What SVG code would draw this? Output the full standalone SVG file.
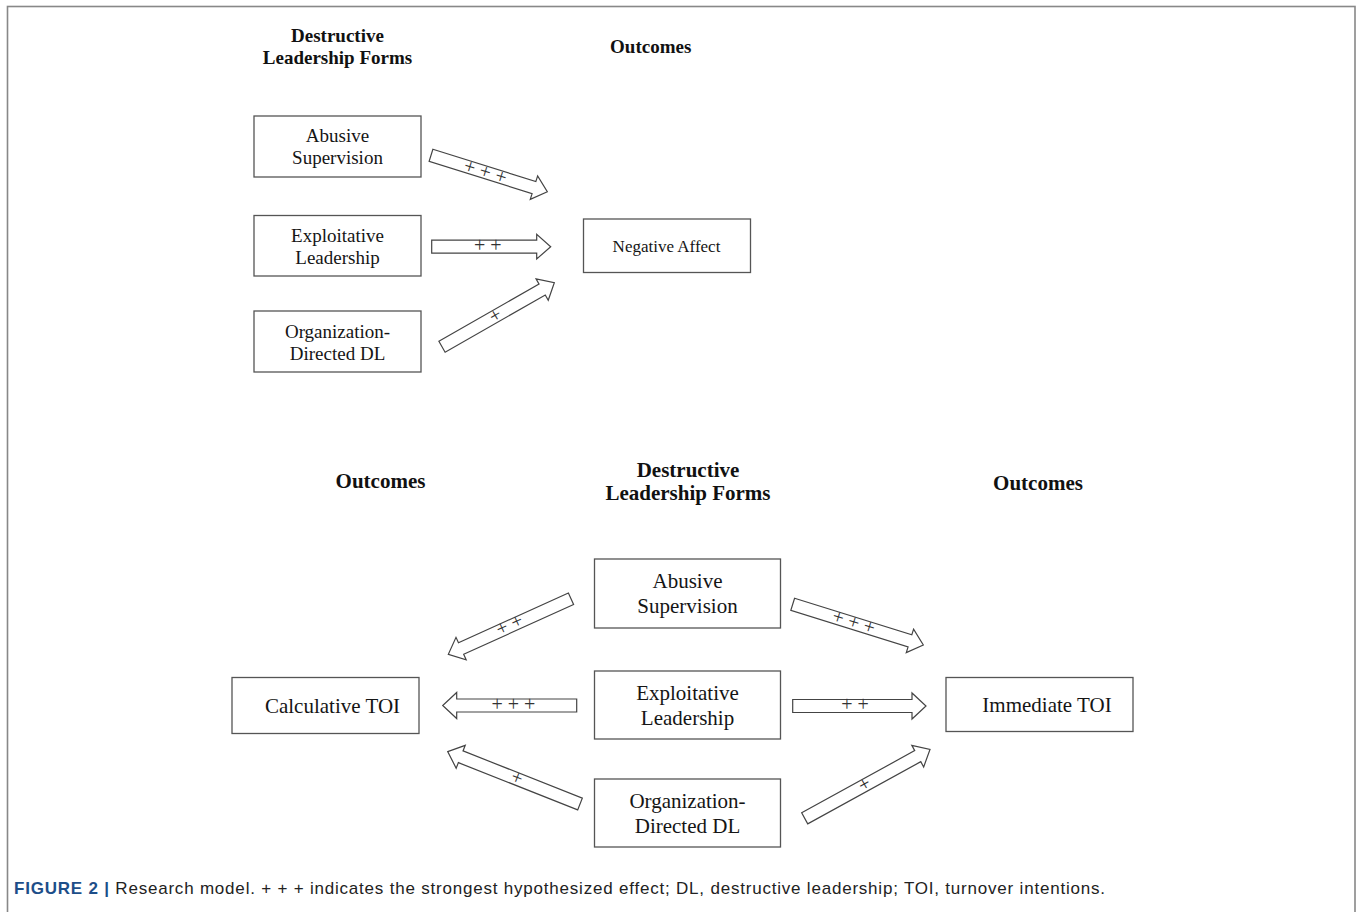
<svg xmlns="http://www.w3.org/2000/svg" width="1358" height="912" viewBox="0 0 1358 912">
<style>
.box{fill:#fff;stroke:#555;stroke-width:1.3}
.ar{fill:#fff;stroke:#444;stroke-width:1.2;stroke-linejoin:miter}
.t{font-family:"Liberation Serif","Times New Roman",serif;fill:#151515;text-anchor:middle}
.h{font-family:"Liberation Serif","Times New Roman",serif;font-weight:bold;fill:#111;text-anchor:middle}
.p{font-family:"Liberation Serif","Times New Roman",serif;font-size:20px;fill:#333;text-anchor:middle}
.cap{font-family:"Liberation Sans",Arial,sans-serif;font-size:17px;fill:#222}
</style>
<rect x="7.5" y="6.5" width="1347.5" height="930" fill="none" stroke="#888" stroke-width="1.6"/>

<g id="headings">
<text class="h" x="337.5" y="42" font-size="19">Destructive</text>
<text class="h" x="337.5" y="64" font-size="19">Leadership Forms</text>
<text class="h" x="650.7" y="53" font-size="19">Outcomes</text>
<text class="h" x="380.5" y="488" font-size="21">Outcomes</text>
<text class="h" x="688" y="477" font-size="21">Destructive</text>
<text class="h" x="688" y="500" font-size="21">Leadership Forms</text>
<text class="h" x="1038" y="490" font-size="21">Outcomes</text>
</g>

<g id="top-abusive">
<rect class="box" x="254" y="116" width="167" height="61"/>
<text class="t" x="337.5" y="141.5" font-size="19">Abusive</text>
<text class="t" x="337.5" y="164" font-size="19">Supervision</text>
</g>
<g id="top-exploitative">
<rect class="box" x="254" y="215.5" width="167" height="60.5"/>
<text class="t" x="337.5" y="241.5" font-size="19">Exploitative</text>
<text class="t" x="337.5" y="264" font-size="19">Leadership</text>
</g>
<g id="top-organization">
<rect class="box" x="254" y="311" width="167" height="61"/>
<text class="t" x="337.5" y="337.5" font-size="19">Organization-</text>
<text class="t" x="337.5" y="360" font-size="19">Directed DL</text>
</g>
<g id="top-negative-affect">
<rect class="box" x="583.5" y="219" width="167" height="53.5"/>
<text class="t" x="666.5" y="252" font-size="17">Negative Affect</text>
</g>

<g id="bottom-abusive">
<rect class="box" x="594.5" y="559" width="186" height="69"/>
<text class="t" x="687.5" y="588" font-size="21">Abusive</text>
<text class="t" x="687.5" y="613" font-size="21">Supervision</text>
</g>
<g id="bottom-exploitative">
<rect class="box" x="594.5" y="671" width="186" height="68"/>
<text class="t" x="687.5" y="699.5" font-size="21">Exploitative</text>
<text class="t" x="687.5" y="724.5" font-size="21">Leadership</text>
</g>
<g id="bottom-organization">
<rect class="box" x="594.5" y="779" width="186" height="68"/>
<text class="t" x="687.5" y="807.5" font-size="21">Organization-</text>
<text class="t" x="687.5" y="832.5" font-size="21">Directed DL</text>
</g>
<g id="calculative-toi">
<rect class="box" x="232" y="677.5" width="187" height="56"/>
<text class="t" x="332.5" y="712.5" font-size="21">Calculative TOI</text>
</g>
<g id="immediate-toi">
<rect class="box" x="946" y="677.5" width="187" height="54"/>
<text class="t" x="1047" y="712" font-size="21">Immediate TOI</text>
</g>

<g id="connectors">
<path class="ar" transform="translate(431,155.3) rotate(17.4)" d="M0,-6.3 H107.9 V-12.3 L121.9,0 L107.9,12.3 V6.3 H0 Z"/>
<text class="p" transform="translate(485,173) rotate(17.4)" y="5">+ + +</text>
<path class="ar" transform="translate(431.7,246.7)" d="M0,-6.5 H105 V-12.3 L119,0 L105,12.3 V6.5 H0 Z"/>
<text class="p" transform="translate(487.7,246.7)" y="5">+ +</text>
<path class="ar" transform="translate(442,346.7) rotate(-29.7)" d="M0,-6.3 H115.3 V-12.3 L129.3,0 L115.3,12.3 V6.3 H0 Z"/>
<text class="p" transform="translate(496,316.5) rotate(-29.7)" y="5">+</text>

<path class="ar" transform="translate(571,598.7) rotate(155.6)" d="M0,-6.3 H120.7 V-12.3 L134.7,0 L120.7,12.3 V6.3 H0 Z"/>
<text class="p" transform="translate(510,626) rotate(-24.4)" y="5">+ +</text>
<path class="ar" transform="translate(576.7,705.5) rotate(180)" d="M0,-6.5 H120 V-13 L134,0 L120,13 V6.5 H0 Z"/>
<text class="p" transform="translate(513.3,705.5)" y="5">+ + +</text>
<path class="ar" transform="translate(580,804) rotate(-158.4)" d="M0,-6.3 H128.3 V-12.3 L142.3,0 L128.3,12.3 V6.3 H0 Z"/>
<text class="p" transform="translate(516.7,779) rotate(21.6)" y="5">+</text>

<path class="ar" transform="translate(792.7,604.3) rotate(17.3)" d="M0,-6.3 H122.8 V-12.3 L136.8,0 L122.8,12.3 V6.3 H0 Z"/>
<text class="p" transform="translate(853.3,623.3) rotate(17.3)" y="5">+ + +</text>
<path class="ar" transform="translate(792.7,706)" d="M0,-6.5 H119.3 V-13 L133.3,0 L119.3,13 V6.5 H0 Z"/>
<text class="p" transform="translate(855,706)" y="5">+ +</text>
<path class="ar" transform="translate(804.7,818.3) rotate(-28.8)" d="M0,-6.3 H129 V-12.3 L143,0 L129,12.3 V6.3 H0 Z"/>
<text class="p" transform="translate(865,785.3) rotate(-28.8)" y="5">+</text>
</g>

<text class="cap" x="14" y="894" textLength="1091" lengthAdjust="spacing"><tspan font-weight="bold" fill="#1d4e89">FIGURE 2 |</tspan> Research model. + + + indicates the strongest hypothesized effect; DL, destructive leadership; TOI, turnover intentions.</text>
</svg>
